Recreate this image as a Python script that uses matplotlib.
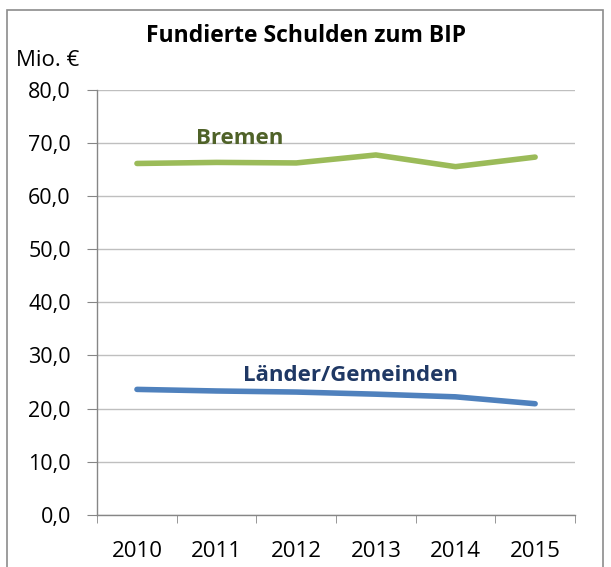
import matplotlib
matplotlib.use('Agg')
import matplotlib.pyplot as plt
from matplotlib.patches import Rectangle

years = ['2010', '2011', '2012', '2013', '2014', '2015']
bremen = [66.1, 66.3, 66.2, 67.7, 65.5, 67.3]
laender = [23.6, 23.3, 23.1, 22.7, 22.2, 20.9]
y_ticks = [0, 10, 20, 30, 40, 50, 60, 70, 80]

GREEN = '#9BBB59'
BLUE = '#4F81BD'
GRID = '#BFBFBF'
AXIS = '#868686'

plt.rcParams['font.family'] = ['Open Sans', 'DejaVu Sans']

fig = plt.figure(figsize=(6.11, 5.67), dpi=100)
ax = fig.add_axes([0.159, 0.092, 0.782, 0.750])

x = list(range(len(years)))
ax.plot(x, bremen, color=GREEN, lw=4.0, solid_capstyle='round', zorder=3)
ax.plot(x, laender, color=BLUE, lw=4.0, solid_capstyle='round', zorder=3)

ax.set_xlim(-0.5, len(years) - 0.5)
ax.set_ylim(0, 80)
ax.set_yticks(y_ticks)
ax.set_yticklabels([f"{v:.1f}".replace('.', ',') for v in y_ticks], fontsize=15.5)
ax.yaxis.grid(True, color=GRID, lw=1)
ax.set_axisbelow(True)

# category labels centred, tick marks between categories
ax.set_xticks(x)
ax.set_xticklabels(years, fontsize=16)
ax.tick_params(axis='x', length=0, pad=19)
ax.set_xticks([i - 0.5 for i in range(len(years) + 1)], minor=True)
ax.tick_params(axis='x', which='minor', length=6, color=AXIS, direction='out')
ax.tick_params(axis='y', length=7, color=AXIS, direction='out', pad=12)

for side in ['top', 'right']:
    ax.spines[side].set_visible(False)
for side in ['left', 'bottom']:
    ax.spines[side].set_color(AXIS)
    ax.spines[side].set_linewidth(1)

ax.text(1.29, 70.8, 'Bremen', color='#4F6228', fontsize=16, fontweight='bold',
        ha='center', va='center')
ax.text(2.68, 26.3, 'Länder/Gemeinden', color='#1F3864', fontsize=16,
        fontweight='bold', ha='center', va='center')

fig.text(0.5, 0.937, 'Fundierte Schulden zum BIP', fontsize=16.5, fontweight='bold',
         ha='center', va='center')
fig.text(0.027, 0.893, 'Mio. €', fontsize=16, ha='left', va='center')

# chart border
fig.patches.append(Rectangle((0.011, -0.05), 0.976, 1.032, transform=fig.transFigure,
                             fill=False, edgecolor='#8C8C8C', lw=1.2))

fig.savefig('out.png', dpi=100)
